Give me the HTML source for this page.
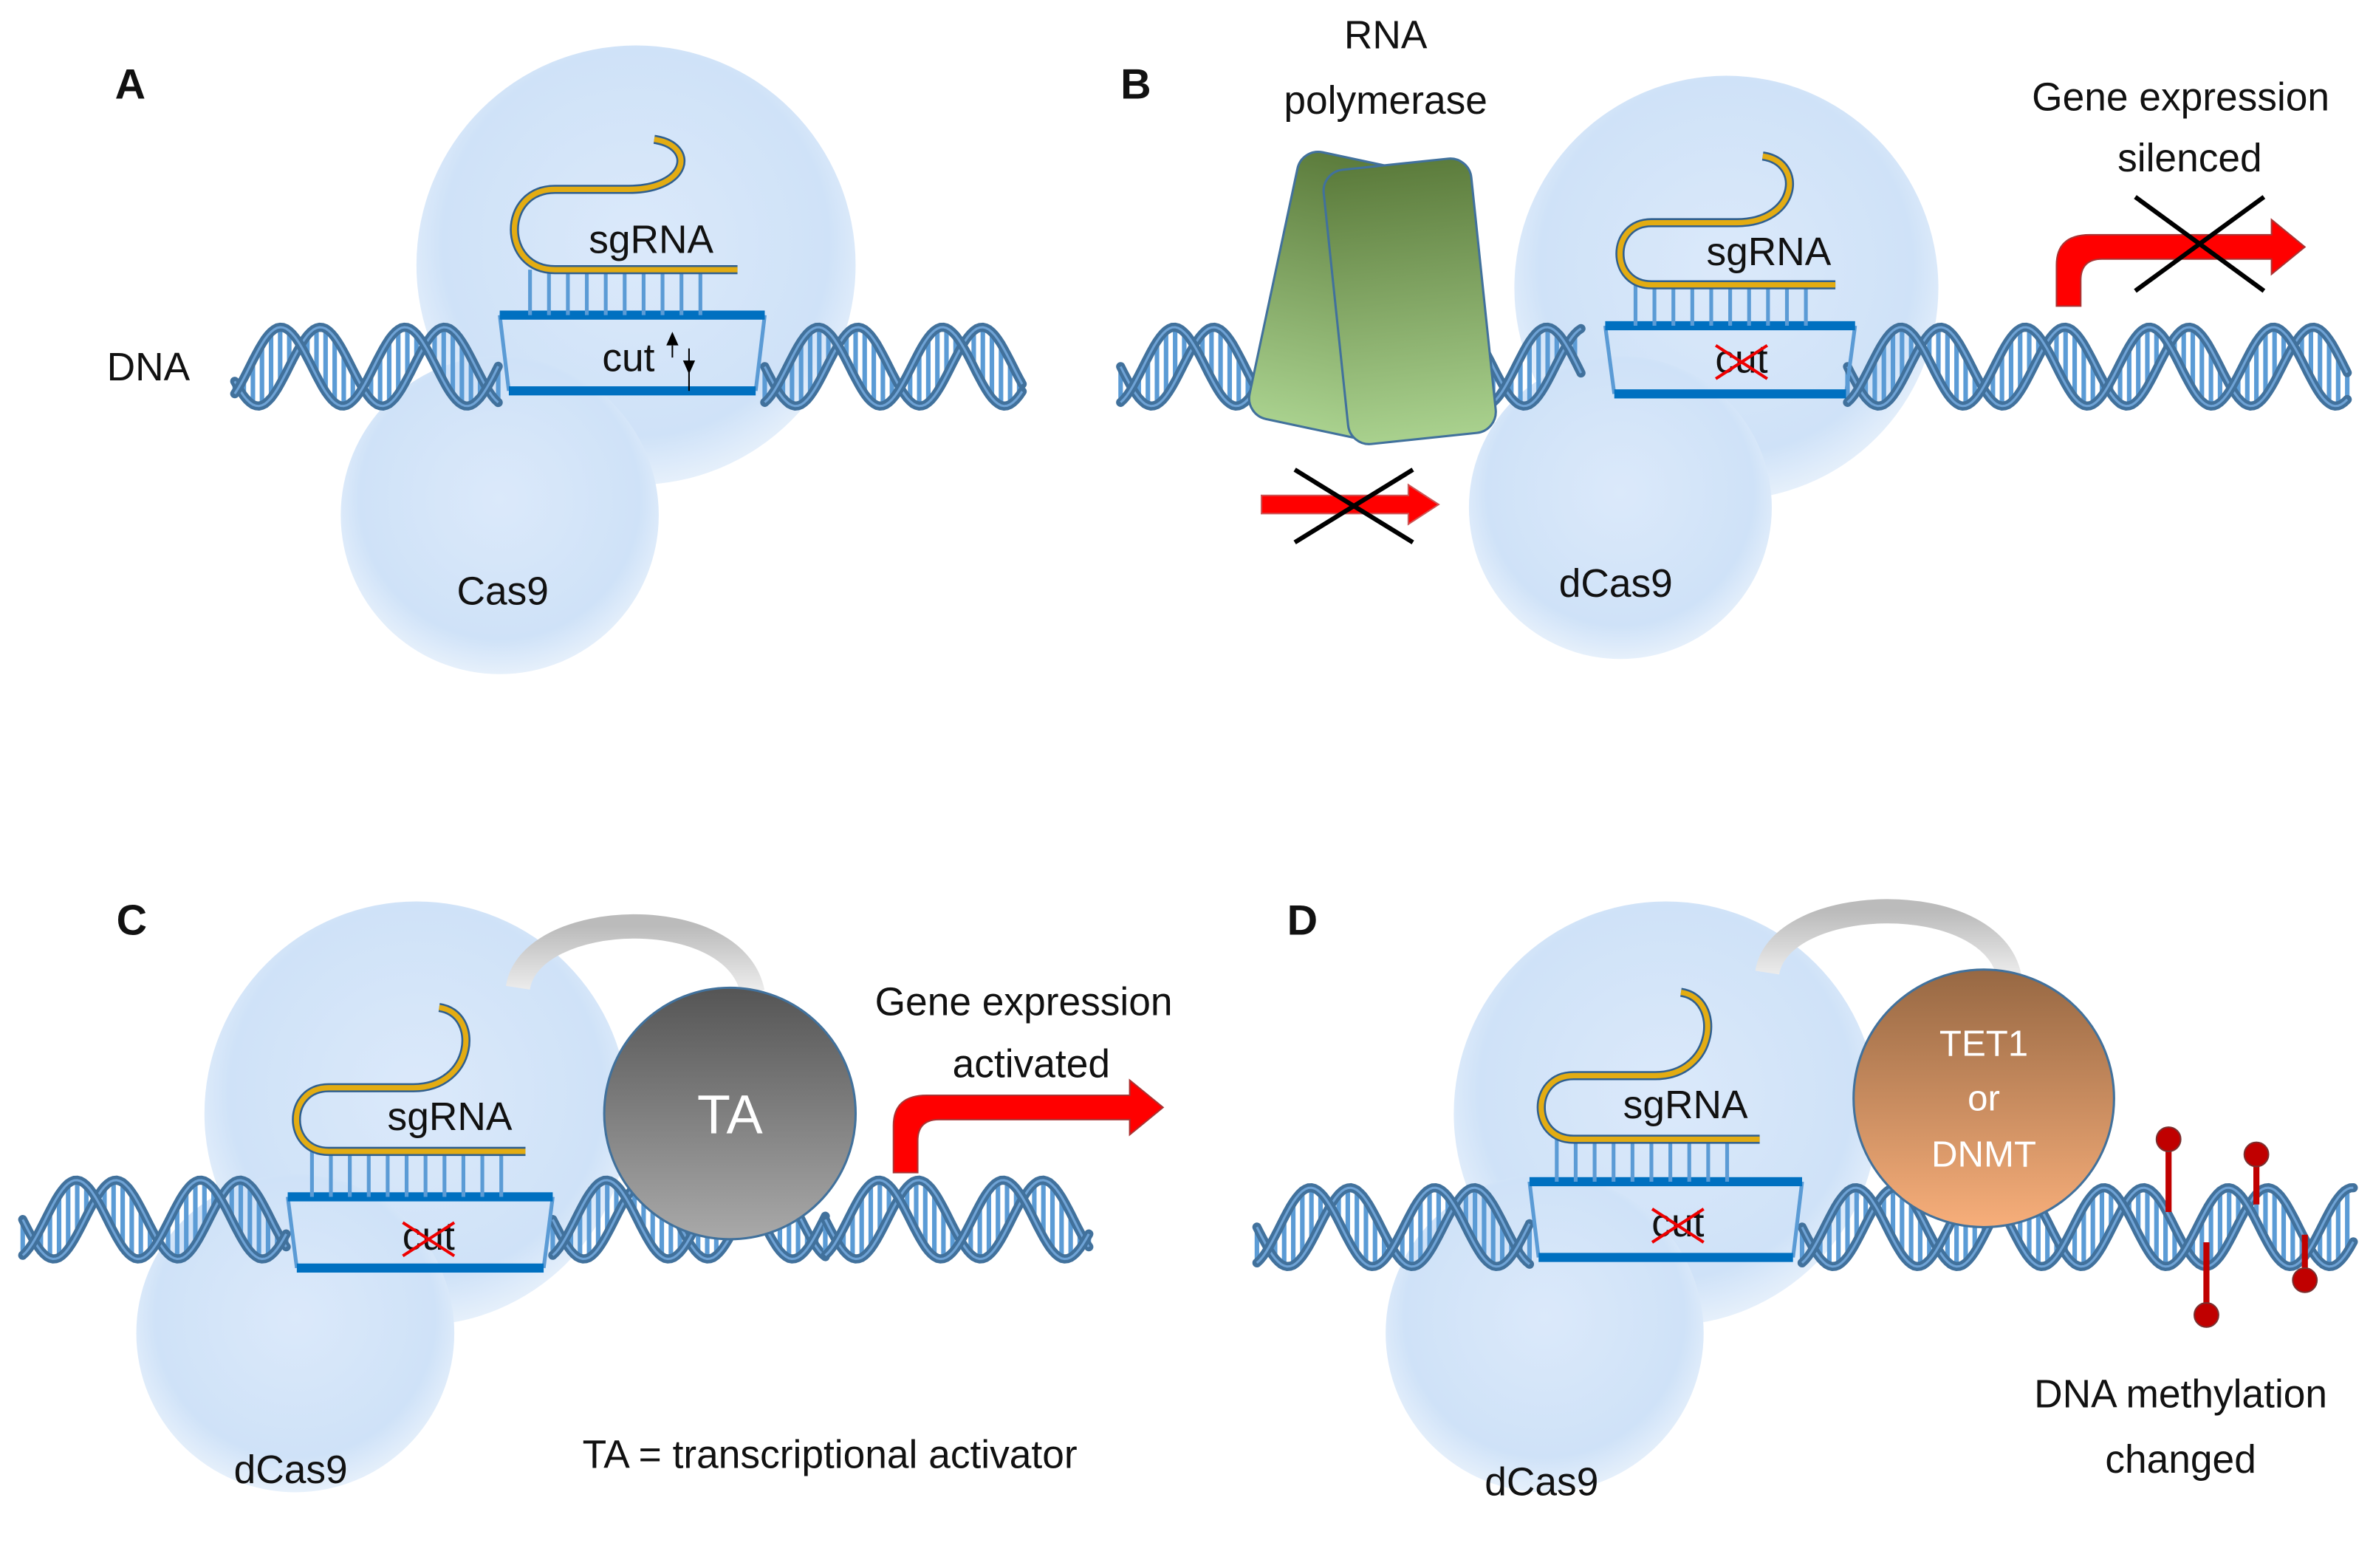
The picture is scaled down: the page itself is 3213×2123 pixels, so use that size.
<!DOCTYPE html>
<html><head><meta charset="utf-8"><style>
html,body{margin:0;padding:0;background:#fff;}
svg{display:block;}
text{font-family:"Liberation Sans",sans-serif;fill:#111;}
</style></head><body>
<svg id="s" width="3213" height="2123" viewBox="0 0 1567 1035" preserveAspectRatio="none" xmlns="http://www.w3.org/2000/svg">
<defs>
<radialGradient id="cas" cx="50%" cy="45%" r="55%">
<stop offset="0" stop-color="#dbe9fa"/><stop offset="0.8" stop-color="#cfe2f8"/><stop offset="1" stop-color="#e6f0fb"/></radialGradient>
<linearGradient id="ta" x1="0" y1="0" x2="0" y2="1"><stop offset="0" stop-color="#555"/><stop offset="1" stop-color="#a9a9a9"/></linearGradient>
<linearGradient id="tet" x1="0" y1="0" x2="0" y2="1"><stop offset="0" stop-color="#976843"/><stop offset="1" stop-color="#f7ae7a"/></linearGradient>
<linearGradient id="pol" x1="0" y1="0" x2="0" y2="1"><stop offset="0" stop-color="#5c7c3c"/><stop offset="1" stop-color="#a9d18e"/></linearGradient>
<linearGradient id="lnk" x1="0" y1="0" x2="0" y2="1"><stop offset="0" stop-color="#bbb"/><stop offset="1" stop-color="#eee"/></linearGradient>
</defs>
<g id="bg"></g>
<g id="dna"></g>
<g id="fg"></g>
</svg>
<script>
var NS="http://www.w3.org/2000/svg";
function el(parent,tag,attrs,txt){var e=document.createElementNS(NS,tag);for(var k in attrs)e.setAttribute(k,attrs[k]);if(txt!==undefined)e.textContent=txt;document.getElementById(parent).appendChild(e);return e;}
[[420,175,145],[330,340,105],[1140,190,140],[1070,335,100],[275,735,140],[195,880,105],[1100,735,140],[1020,880,105]].forEach(function(c){el('bg','circle',{cx:c[0],cy:c[1],r:c[2],fill:'url(#cas)'});});
function helix(x1,x2,cy,A,P,x0){
  var d1='',d2='';
  for(var x=x1;x<=x2;x+=6){
    var a=Math.sin(2*Math.PI*(x-x0)/P)*A+cy, b=Math.sin(2*Math.PI*(x-x0)/P+2.0)*A+cy;
    el('dna','line',{x1:x,y1:a,x2:x,y2:b,stroke:'#5b9bd5','stroke-width':3});
  }
  for(var x=x1;x<=x2;x+=2){
    var a=Math.sin(2*Math.PI*(x-x0)/P)*A+cy, b=Math.sin(2*Math.PI*(x-x0)/P+2.0)*A+cy;
    d1+=(x==x1?'M':'L')+x+','+a.toFixed(1); d2+=(x==x1?'M':'L')+x+','+b.toFixed(1);
  }
  [d1,d2].forEach(function(d){el('dna','path',{d:d,fill:'none',stroke:'#41719c','stroke-width':6,'stroke-linecap':'round'});
   el('dna','path',{d:d,fill:'none',stroke:'#6fa3d6','stroke-width':1.5});});
}
var P=82;
helix(155,330,242,26,P,150);helix(505,675,242,26,P,505);
helix(740,1045,242,26,P,740);helix(1220,1550,242,26,P,1220);
helix(15,190,805,26,P,15);helix(365,545,805,26,P,365);helix(545,720,805,26,P,545);
helix(830,1010,810,26,P,830);helix(1190,1555,810,26,P,1190);
function unit(bx1,bx2,ty,by,sx1,sx2,sy,loopTop,hookX,hookTop,label,lx,ly,cutx,cuty,crossed){
  el('fg','line',{x1:bx1,y1:ty,x2:bx1+6,y2:by,stroke:'#5b9bd5','stroke-width':2.5});
  el('fg','line',{x1:bx2,y1:ty,x2:bx2-6,y2:by,stroke:'#5b9bd5','stroke-width':2.5});
  el('fg','rect',{x:bx1,y:ty-3,width:bx2-bx1,height:6,fill:'#0070c0'});
  el('fg','rect',{x:bx1+6,y:by-3,width:bx2-bx1-12,height:6,fill:'#0070c0'});
  for(var x=sx1+10;x<=sx2-15;x+=12.5)el('fg','line',{x1:x,y1:sy,x2:x,y2:ty,stroke:'#5b9bd5','stroke-width':2.5});
  var r=(sy-loopTop)/2;
  var d='M'+sx2+','+sy+' L'+(sx1+r)+','+sy+' C'+(sx1-r*0.35)+','+sy+' '+(sx1-r*0.35)+','+loopTop+' '+(sx1+r)+','+loopTop+' L'+(hookX-25)+','+loopTop+' C'+(hookX+15)+','+loopTop+' '+(hookX+20)+','+(hookTop+4)+' '+(hookX-8)+','+hookTop;
  el('fg','path',{d:d,fill:'none',stroke:'#2f5f8f','stroke-width':6});
  el('fg','path',{d:d,fill:'none',stroke:'#e3ac12','stroke-width':3.5});
  el('fg','text',{x:lx,y:ly,'font-size':26,'text-anchor':'middle'},label);
  el('fg','text',{x:cutx,y:cuty,'font-size':26,'text-anchor':'middle'},'cut');
  if(crossed){el('fg','line',{x1:cutx-17,y1:cuty-18,x2:cutx+17,y2:cuty+4,stroke:'#e00','stroke-width':2});
    el('fg','line',{x1:cutx-17,y1:cuty+4,x2:cutx+17,y2:cuty-18,stroke:'#e00','stroke-width':2});}
}
unit(330,505,208,258,340,487,178,125,440,92,'sgRNA',430,167,415,245,false);
unit(1060,1225,215,260,1070,1212,188,147,1172,103,'sgRNA',1168,175,1150,246,true);
unit(190,365,790,837,196,347,760,718,298,665,'sgRNA',297,746,283,825,true);
unit(1010,1190,780,830,1018,1162,752,710,1118,655,'sgRNA',1113,738,1108,816,true);
el('fg','path',{d:'M444,219 L440,228 L448,228Z',fill:'#000'});el('fg','line',{x1:444,y1:228,x2:444,y2:236,stroke:'#000','stroke-width':1});
el('fg','path',{d:'M455,247 L451,238 L459,238Z',fill:'#000'});el('fg','line',{x1:455,y1:230,x2:455,y2:258,stroke:'#000','stroke-width':1});
el('fg','rect',{x:840,y:105,width:90,height:180,rx:14,fill:'url(#pol)',stroke:'#41719c','stroke-width':1.5,transform:'rotate(12 885 195)'});
el('fg','rect',{x:882,y:108,width:98,height:182,rx:14,fill:'url(#pol)',stroke:'#41719c','stroke-width':1.5,transform:'rotate(-6 930 200)'});
el('fg','path',{d:'M833,327 L930,327 L930,320 L950,333 L930,346 L930,339 L833,339Z',fill:'#f00',stroke:'#c55','stroke-width':1});
el('fg','line',{x1:855,y1:310,x2:933,y2:358,stroke:'#000','stroke-width':3});
el('fg','line',{x1:855,y1:358,x2:933,y2:310,stroke:'#000','stroke-width':3});
function bent(x,yb,yt,xe){
  el('fg','path',{d:'M'+x+','+yb+' L'+x+','+(yt+12)+' Q'+x+','+(yt-8)+' '+(x+22)+','+(yt-8)+' L'+(xe-22)+','+(yt-8)+' L'+(xe-22)+','+(yt-18)+' L'+xe+','+yt+' L'+(xe-22)+','+(yt+18)+' L'+(xe-22)+','+(yt+8)+' L'+(x+30)+','+(yt+8)+' Q'+(x+16)+','+(yt+8)+' '+(x+16)+','+(yt+22)+' L'+(x+16)+','+yb+'Z',fill:'#f00',stroke:'#a33','stroke-width':1});
}
bent(1358,202,163,1522);
el('fg','line',{x1:1410,y1:130,x2:1495,y2:192,stroke:'#000','stroke-width':3});
el('fg','line',{x1:1410,y1:192,x2:1495,y2:130,stroke:'#000','stroke-width':3});
bent(590,774,731,768);
el('fg','path',{d:'M342,652 C350,600 485,595 497,655',fill:'none',stroke:'url(#lnk)','stroke-width':16});
el('fg','path',{d:'M1167,642 C1175,590 1315,585 1327,645',fill:'none',stroke:'url(#lnk)','stroke-width':16});
el('fg','circle',{cx:482,cy:735,r:83,fill:'url(#ta)',stroke:'#41719c','stroke-width':1.5});
el('fg','text',{x:482,y:748,'font-size':36,'text-anchor':'middle',style:'fill:#fff'},'TA');
el('fg','ellipse',{cx:1310,cy:725,rx:86,ry:85,fill:'url(#tet)',stroke:'#41719c','stroke-width':1.5});
el('fg','text',{x:1310,y:697,'font-size':24,'text-anchor':'middle',style:'fill:#fff'},'TET1');
el('fg','text',{x:1310,y:733,'font-size':24,'text-anchor':'middle',style:'fill:#fff'},'or');
el('fg','text',{x:1310,y:770,'font-size':24,'text-anchor':'middle',style:'fill:#fff'},'DNMT');
[[1432,752,1432,800],[1490,762,1490,795],[1522,845,1522,815],[1457,868,1457,820]].forEach(function(m){
 el('fg','line',{x1:m[2],y1:m[3],x2:m[0],y2:m[1],stroke:'#c00000','stroke-width':4});
 el('fg','circle',{cx:m[0],cy:m[1],r:8,fill:'#c00000',stroke:'#7a3030','stroke-width':1});});
function t(x,y,s,size,bold){el('fg','text',{x:x,y:y,'font-size':size||26,'text-anchor':'middle','font-weight':bold?'bold':'normal'},s);}
t(86,65,'A',28,1);t(750,65,'B',28,1);t(87,617,'C',28,1);t(860,617,'D',28,1);
t(98,251,'DNA');t(332,399,'Cas9');t(1067,394,'dCas9');t(192,979,'dCas9');t(1018,987,'dCas9');
t(915,32,'RNA');t(915,75,'polymerase');
t(1440,73,'Gene expression');t(1446,113,'silenced');
t(676,670,'Gene expression');t(681,711,'activated');
t(548,969,'TA = transcriptional activator');
t(1440,929,'DNA methylation');t(1440,972,'changed');
</script>
</body></html>
